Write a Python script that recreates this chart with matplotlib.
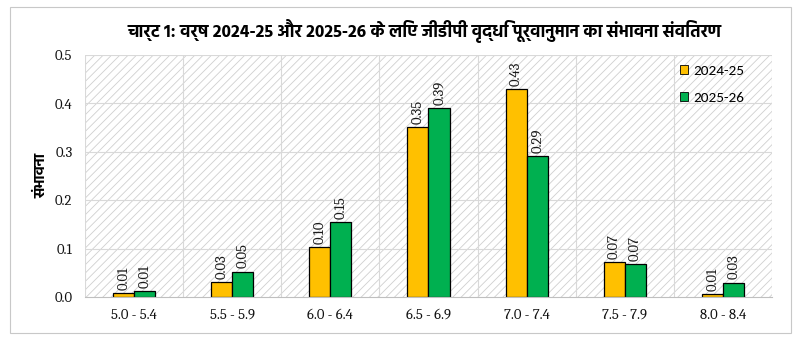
import matplotlib
matplotlib.use("Agg")
import matplotlib.pyplot as plt
from matplotlib.patches import Rectangle
import numpy as np

# Growth ranges and the probability of each range for the two forecast years
categories = ["5.0 - 5.4", "5.5 - 5.9", "6.0 - 6.4", "6.5 - 6.9",
              "7.0 - 7.4", "7.5 - 7.9", "8.0 - 8.4"]
prob_2024_25 = [0.008, 0.030, 0.103, 0.351, 0.429, 0.072, 0.006]
prob_2025_26 = [0.012, 0.052, 0.155, 0.390, 0.291, 0.068, 0.029]
series_labels = ["2024-25", "2025-26"]
yticks = [0.0, 0.1, 0.2, 0.3, 0.4, 0.5]

title = "चार्ट 1: वर्ष 2024-25 और 2025-26 के लिए जीडीपी वृद्धि पूर्वानुमान का संभावना संवितरण"
ylabel = "संभावना"

DEVA = ["Hind", "Mukta", "Noto Sans Devanagari", "DejaVu Sans"]
SERIF = ["Caladea", "DejaVu Serif"]
LEG = ["Carlito", "DejaVu Sans"]

plt.rcParams["hatch.linewidth"] = 0.6

fig = plt.figure(figsize=(8.04, 3.39), dpi=100)
fig.patch.set_facecolor("white")

# outer chart border
fig.add_artist(Rectangle((10 / 804, 1 - 333 / 339), 781 / 804, 326 / 339,
                         transform=fig.transFigure, fill=False,
                         edgecolor="#c8c8c8", linewidth=0.8))

ax = fig.add_axes([85 / 804, 42 / 339, 687 / 804, 242 / 339])
ax.set_facecolor("white")

# light diagonal hatching over the plot area
ax.add_patch(Rectangle((0, 0), 1, 1, transform=ax.transAxes, facecolor="white",
                       edgecolor="#cfcfcf", hatch="////", linewidth=0, zorder=0))

x = np.arange(len(categories))
w = 0.214
colors = ["#FFC000", "#00B050"]
for k, (vals, col, lab) in enumerate(zip([prob_2024_25, prob_2025_26], colors, series_labels)):
    xs = x + (k - 0.5) * w
    ax.bar(xs, vals, width=w, color=col, edgecolor="black", linewidth=0.9,
           label=lab, zorder=3)
    for xi, v in zip(xs, vals):
        ax.annotate(f"{v:.2f}", (xi, v), xytext=(0, 2.5), textcoords="offset points",
                    rotation=90, ha="center", va="bottom", fontsize=10.5,
                    family=SERIF, color="#1a1a1a", zorder=4)

ax.set_xlim(-0.5, len(categories) - 0.5)
ax.set_ylim(0, 0.5)
ax.set_yticks(yticks)
ax.set_yticklabels([f"{t:.1f}" for t in yticks], family=SERIF, fontsize=10.5)
ax.set_xticks(x)
ax.set_xticklabels(categories, family=SERIF, fontsize=10.5)
ax.tick_params(axis="both", length=0, colors="#111111")
ax.tick_params(axis="y", pad=9)
ax.tick_params(axis="x", pad=8)

# gridlines: horizontal at each tick, vertical between categories
for t in yticks[1:]:
    ax.axhline(t, color="#d9d9d9", linewidth=0.8, zorder=1)
for b in np.arange(-0.5, len(categories), 1.0):
    ax.axvline(b, color="#d9d9d9", linewidth=0.8, zorder=1)

for s in ["top", "right", "left"]:
    ax.spines[s].set_visible(False)
ax.spines["bottom"].set_color("#bfbfbf")
ax.spines["bottom"].set_linewidth(0.8)
ax.spines["bottom"].set_zorder(5)

ax.set_ylabel(ylabel, family=DEVA, fontsize=11, fontweight="bold", labelpad=4)

fig.text(425 / 804, 1 - 31 / 339, title, family=DEVA, fontsize=12.5,
         fontweight="bold", ha="center", va="center")

leg = ax.legend(loc="upper left", bbox_to_anchor=(0.857, 0.985), frameon=False,
                prop={"family": LEG, "size": 11}, handlelength=0.5,
                handleheight=0.5, handletextpad=0.35, labelspacing=1.0,
                borderaxespad=0)
for h in leg.legend_handles:
    h.set_linewidth(0.6)

fig.savefig("out.png", dpi=100, facecolor="white")
